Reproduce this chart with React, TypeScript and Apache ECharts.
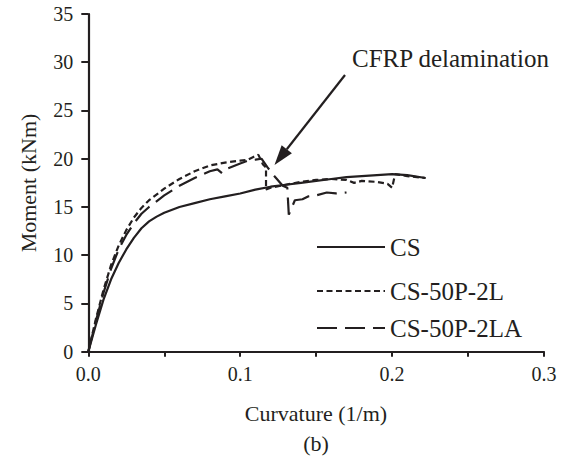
import React, { useEffect, useRef } from "react";
import * as echarts from "echarts";

const seriesNames = ["CS", "CS-50P-2L", "CS-50P-2LA"];

const csData: [number, number][] = [
  [0, 0], [0.005, 2.8], [0.01, 5.4], [0.015, 7.5], [0.02, 9.2], [0.025, 10.6],
  [0.03, 11.8], [0.035, 12.8], [0.04, 13.5], [0.045, 14.0], [0.05, 14.4], [0.06, 15.0],
  [0.07, 15.4], [0.08, 15.8], [0.09, 16.1], [0.1, 16.4], [0.11, 16.8], [0.12, 17.1],
  [0.13, 17.3], [0.14, 17.5], [0.15, 17.7], [0.16, 17.9], [0.17, 18.1], [0.18, 18.2],
  [0.19, 18.3], [0.2, 18.4], [0.21, 18.3], [0.222, 18.0],
];

const cs2LData: [number, number][] = [
  [0, 0], [0.005, 3.4], [0.01, 6.4], [0.015, 9.0], [0.02, 11.0], [0.025, 12.6],
  [0.03, 13.9], [0.035, 14.9], [0.04, 15.7], [0.05, 16.9], [0.06, 17.9], [0.07, 18.7],
  [0.08, 19.3], [0.09, 19.6], [0.1, 19.8], [0.105, 19.9], [0.109, 20.2], [0.112, 20.4],
  [0.115, 19.4], [0.117, 19.1], [0.117, 16.8], [0.12, 17.0], [0.13, 17.3], [0.14, 17.6],
  [0.15, 17.8], [0.16, 17.9], [0.17, 17.8], [0.175, 17.5], [0.18, 17.7], [0.19, 17.6],
  [0.197, 17.4], [0.2, 17.0], [0.202, 18.4], [0.21, 18.2], [0.222, 18.0],
];

const cs2LAData: [number, number][] = [
  [0, 0], [0.005, 3.2], [0.01, 6.1], [0.015, 8.6], [0.02, 10.6], [0.025, 12.1],
  [0.03, 13.3], [0.035, 14.3], [0.04, 15.0], [0.05, 16.2], [0.06, 17.2], [0.07, 18.0],
  [0.08, 18.7], [0.085, 18.9], [0.088, 18.5], [0.092, 19.0], [0.1, 19.5], [0.105, 19.8],
  [0.11, 19.9], [0.114, 20.0], [0.118, 19.1], [0.123, 18.1], [0.128, 17.2], [0.131, 17.0],
  [0.132, 14.2], [0.136, 15.7], [0.141, 15.8], [0.145, 16.1], [0.15, 16.2], [0.157, 16.5],
  [0.163, 16.4], [0.17, 16.5],
];

const xTicks = [0, 0.05, 0.1, 0.15, 0.2, 0.25, 0.3];
const yTicks = [0, 5, 10, 15, 20, 25, 30, 35];

const FONT = "Liberation Serif";
const INK = "#231f20";

export default function App() {
  const ref = useRef<HTMLDivElement>(null);
  useEffect(() => {
    if (!ref.current) return;
    const chart = echarts.init(ref.current, undefined, { renderer: "svg" });
    const dashes: (number[] | "solid")[] = ["solid", [6, 3.5], [20, 8]];
    const datasets = [csData, cs2LData, cs2LAData];
    const legendY = [247, 291, 328];

    const legendGraphics: any[] = [];
    seriesNames.forEach((name, i) => {
      legendGraphics.push({
        type: "line",
        shape: { x1: 317, y1: legendY[i], x2: 385, y2: legendY[i] },
        style: {
          stroke: INK,
          lineWidth: 2.2,
          lineDash: dashes[i] === "solid" ? null : (dashes[i] as number[]),
        },
      });
      legendGraphics.push({
        type: "text",
        x: 390,
        y: legendY[i],
        style: {
          text: name,
          font: `25px "${FONT}"`,
          fill: INK,
          textVerticalAlign: "middle",
          textAlign: "left",
        },
      });
    });

    const tip = [274.5, 165];
    const dir = [-0.614, 0.789];
    const headLen = 20;
    const headHalf = 6.5;
    const base = [tip[0] - dir[0] * headLen, tip[1] - dir[1] * headLen];
    const perp = [dir[1], -dir[0]];

    chart.setOption({
      animation: false,
      backgroundColor: "#ffffff",
      grid: { left: 88.3, top: 14, right: 21, bottom: 105.3, containLabel: false },
      xAxis: {
        type: "value",
        min: 0,
        max: 0.3,
        interval: 0.05,
        axisLine: { show: true, lineStyle: { color: INK, width: 2.2 } },
        axisTick: { show: true, inside: false, length: 5, lineStyle: { color: INK, width: 2 } },
        splitLine: { show: false },
        axisLabel: {
          margin: 12,
          fontFamily: FONT,
          fontSize: 20,
          color: INK,
          formatter: (v: number) => {
            const idx = xTicks.findIndex((t) => Math.abs(t - v) < 1e-9);
            return idx % 2 === 0 ? v.toFixed(1) : "";
          },
        },
      },
      yAxis: {
        type: "value",
        min: 0,
        max: 35,
        interval: 5,
        axisLine: { show: true, lineStyle: { color: INK, width: 2.2 } },
        axisTick: { show: true, inside: false, length: 7, lineStyle: { color: INK, width: 2 } },
        splitLine: { show: false },
        axisLabel: {
          margin: 15,
          fontFamily: FONT,
          fontSize: 20,
          color: INK,
          formatter: (v: number) => (yTicks.includes(v) ? String(v) : ""),
        },
      },
      series: datasets.map((d, i) => ({
        name: seriesNames[i],
        type: "line",
        data: d,
        symbol: "none",
        smooth: false,
        lineStyle: {
          color: INK,
          width: 2.2,
          type: dashes[i],
        },
        z: 3 - i,
      })),
      graphic: [
        {
          type: "text",
          x: 316,
          y: 413,
          style: {
            text: "Curvature (1/m)",
            font: `22px "${FONT}"`,
            fill: INK,
            textAlign: "center",
            textVerticalAlign: "middle",
          },
        },
        {
          type: "text",
          x: 316,
          y: 443,
          style: {
            text: "(b)",
            font: `22px "${FONT}"`,
            fill: INK,
            textAlign: "center",
            textVerticalAlign: "middle",
          },
        },
        {
          type: "text",
          x: 28,
          y: 183,
          rotation: Math.PI / 2,
          style: {
            text: "Moment (kNm)",
            font: `22px "${FONT}"`,
            fill: INK,
            textAlign: "center",
            textVerticalAlign: "middle",
          },
        },
        {
          type: "text",
          x: 352,
          y: 58,
          style: {
            text: "CFRP delamination",
            font: `25px "${FONT}"`,
            fill: INK,
            textAlign: "left",
            textVerticalAlign: "middle",
          },
        },
        {
          type: "line",
          shape: { x1: 345, y1: 75, x2: base[0], y2: base[1] },
          style: { stroke: INK, lineWidth: 2.2 },
        },
        {
          type: "polygon",
          shape: {
            points: [
              [tip[0], tip[1]],
              [base[0] + perp[0] * headHalf, base[1] + perp[1] * headHalf],
              [base[0] - perp[0] * headHalf, base[1] - perp[1] * headHalf],
            ],
          },
          style: { fill: INK },
        },
        ...legendGraphics,
      ],
    });
    return () => chart.dispose();
  }, []);
  return (
    <div
      ref={ref}
      style={{ position: "fixed", left: 0, top: 0, width: 565, height: 457 }}
    />
  );
}
